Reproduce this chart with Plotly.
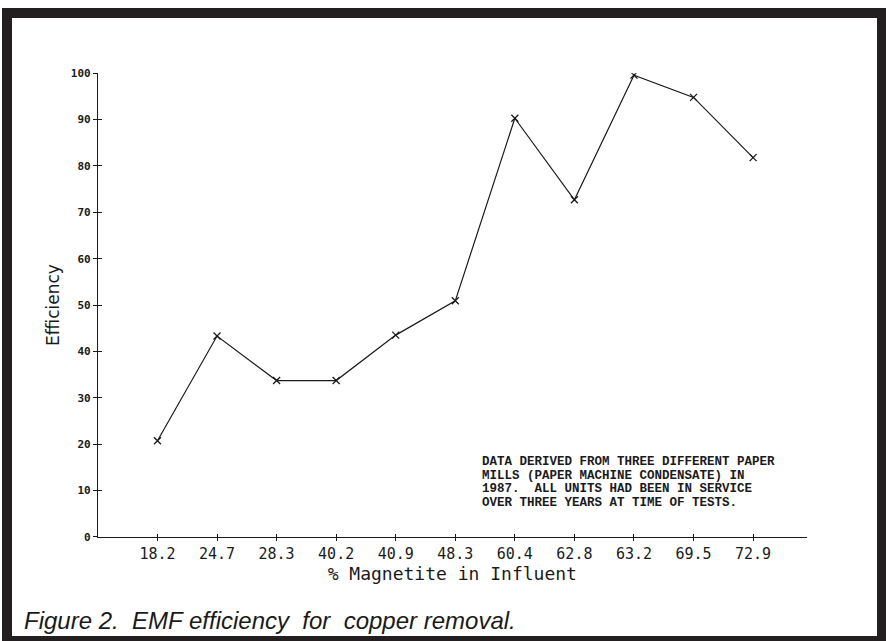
import plotly.graph_objects as go

# ---- data ----
magnetite_pct = ["18.2", "24.7", "28.3", "40.2", "40.9", "48.3",
                 "60.4", "62.8", "63.2", "69.5", "72.9"]
efficiency = [20.7, 43.3, 33.7, 33.7, 43.5, 50.9, 90.3, 72.7, 99.6, 94.8, 81.8]
y_tick_vals = [0, 10, 20, 30, 40, 50, 60, 70, 80, 90, 100]
note_lines = [
    "DATA DERIVED FROM THREE DIFFERENT PAPER",
    "MILLS (PAPER MACHINE CONDENSATE) IN",
    "1987.\u00a0\u00a0ALL UNITS HAD BEEN IN SERVICE",
    "OVER THREE YEARS AT TIME OF TESTS.",
]
caption = "Figure 2.\u00a0\u00a0EMF efficiency\u00a0\u00a0for\u00a0\u00a0copper removal."

W, H = 886, 641
INK = "#1a1a1a"
FRAME = "#231f20"


def px(x):
    return x / W


def py(y):
    return 1 - y / H


fig = go.Figure()

fig.add_trace(go.Scatter(
    x=magnetite_pct, y=efficiency,
    mode="lines+markers",
    line=dict(color=INK, width=1.2),
    marker=dict(symbol="x-thin", size=7, line=dict(color=INK, width=1.3)),
    showlegend=False, hoverinfo="x+y",
))
# invisible twin trace to carry the inward half of the cross ticks
fig.add_trace(go.Scatter(
    x=magnetite_pct, y=efficiency, xaxis="x2", yaxis="y2",
    mode="markers", marker=dict(opacity=0), showlegend=False, hoverinfo="skip",
))

x_dom = [px(97.9), px(806.7)]
y_dom = [py(536.7), py(73.3)]
x_range = [-1, 10.9]
y_range = [0, 100]

tick_font_x = dict(family="DejaVu Sans Mono", size=15, color=INK)
tick_font_y = dict(family="DejaVu Sans Mono", size=11, color=INK, weight="bold")

fig.update_layout(
    template="none",
    width=W, height=H,
    margin=dict(l=0, r=0, t=0, b=0),
    paper_bgcolor="white", plot_bgcolor="rgba(0,0,0,0)",
    font=dict(family="DejaVu Sans", color=INK),
    showlegend=False,
    xaxis=dict(
        type="category", domain=x_dom, range=x_range, anchor="y",
        showline=True, linecolor=INK, linewidth=1,
        ticks="outside", ticklen=3, tickwidth=1, tickcolor=INK,
        tickfont=tick_font_x, showgrid=False, zeroline=False, automargin=False,
        title=dict(text="% Magnetite in Influent", standoff=2,
                   font=dict(family="DejaVu Sans Mono", size=18, color=INK)),
    ),
    yaxis=dict(
        domain=y_dom, range=y_range, anchor="x",
        tickvals=y_tick_vals,
        showline=True, linecolor=INK, linewidth=1,
        ticks="outside", ticklen=4, tickwidth=1, tickcolor=INK,
        tickfont=tick_font_y, showgrid=False, zeroline=False, automargin=False,
        title=dict(text="Efficiency", standoff=6,
                   font=dict(family="DejaVu Sans", size=17, color=INK)),
    ),
    xaxis2=dict(
        type="category", overlaying="x", domain=x_dom, range=x_range, anchor="y2",
        side="bottom", showline=False, ticks="inside", ticklen=3, tickwidth=1,
        tickcolor=INK, showticklabels=False, showgrid=False, zeroline=False,
        automargin=False,
    ),
    yaxis2=dict(
        overlaying="y", domain=y_dom, range=y_range, anchor="x2", side="left",
        tickvals=y_tick_vals, showline=False, ticks="inside", ticklen=4,
        tickwidth=1, tickcolor=INK, showticklabels=False, showgrid=False,
        zeroline=False, automargin=False,
    ),
)

# scanned-page frame
fig.add_shape(type="rect", xref="paper", yref="paper", layer="below", opacity=1,
              x0=px(2), x1=px(886), y0=py(641), y1=py(8),
              fillcolor=FRAME, line=dict(width=0))
fig.add_shape(type="rect", xref="paper", yref="paper", layer="below", opacity=1,
              x0=px(12), x1=px(877), y0=py(636), y1=py(18),
              fillcolor="white", line=dict(width=0))

# note block
note_y = [462, 475.5, 489, 502.5]
for line, yy in zip(note_lines, note_y):
    fig.add_annotation(
        text=line, xref="paper", yref="paper", x=px(481), y=py(yy),
        xanchor="left", yanchor="middle", showarrow=False, borderpad=0,
        font=dict(family="Liberation Mono", size=12.5, color=INK, weight="bold"),
    )

# caption
fig.add_annotation(
    text=f"<i>{caption}</i>", xref="paper", yref="paper", x=px(22), y=py(620),
    xanchor="left", yanchor="middle", showarrow=False,
    font=dict(family="Liberation Sans", size=24, color=INK),
)

fig.write_html(
    "out.html",
    config={"displayModeBar": False},
    post_script="document.body.style.margin='0';document.body.style.overflow='hidden';",
)
